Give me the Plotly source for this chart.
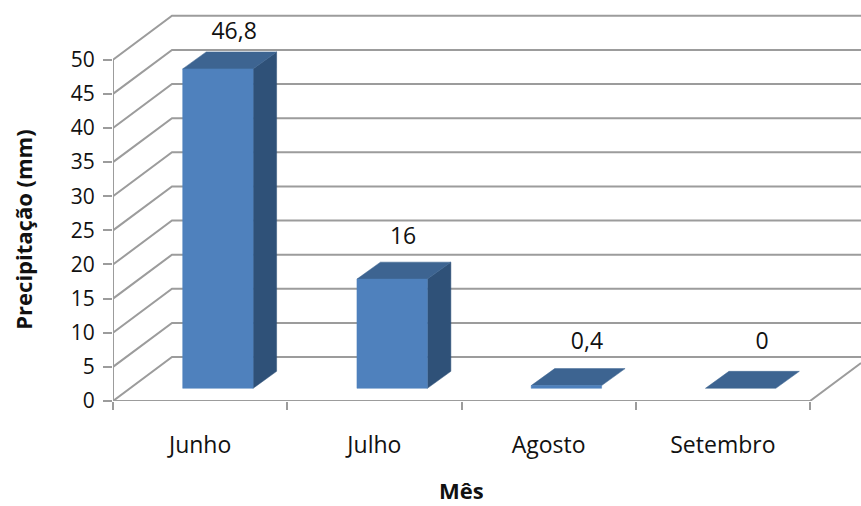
import plotly.graph_objects as go

# Rainfall per month
meses = ["Junho", "Julho", "Agosto", "Setembro"]
precipitacao = [46.8, 16, 0.4, 0]
rotulos = ["46,8", "16", "0,4", "0"]
y_ticks = [0, 5, 10, 15, 20, 25, 30, 35, 40, 45, 50]

FONT = "Open Sans"
INK = "#111111"
GRID = "#9c9c9c"
FRONT, TOP, SIDE = "#4f81bd", "#3d6491", "#2f5178"

# Pixel scale of the plot area, used to express the oblique projection in axis units
W, H = 861, 506
ML, MB = 113, 104.5
PX_X = 174.25
PX_Y = 6.834
X_MAX = (W - ML) / PX_X
Y_MAX = (H - MB) / PX_Y

# Oblique offsets of the walls and of the bars
WALL_DX, WALL_DY = 59 / PX_X, 44 / PX_Y
BAR_DX, BAR_DY = 23.5 / PX_X, 17 / PX_Y
FLOOR_DY = 12.7 / PX_Y
BAR_LEFT, BAR_WIDTH = 0.40, 0.404

# Nudges of the value labels from each bar: along x and above the value
LABEL_DX = [0.695, 0.665, 0.72, 0.725]
LABEL_DY = [7.15, 7.85, 8.0, 8.4]

fig = go.Figure()


def line(xs, ys):
    fig.add_trace(go.Scatter(x=xs, y=ys, mode="lines", hoverinfo="skip",
                             line=dict(color=GRID, width=2), showlegend=False))


def face(xs, ys, color):
    fig.add_trace(go.Scatter(x=xs, y=ys, mode="lines", fill="toself", fillcolor=color,
                             hoverinfo="skip", line=dict(color=color, width=0.5),
                             showlegend=False))


# Back wall gridlines joined to the side wall
for v in y_ticks:
    line([0, WALL_DX, X_MAX], [v, v + WALL_DY, v + WALL_DY])

# Front axis lines and the right edge of the floor
line([0, 0], [0, y_ticks[-1]])
line([0, len(meses), X_MAX], [0, 0, (X_MAX - len(meses)) / WALL_DX * WALL_DY])

# Bars: side, top and front faces
for i, v in enumerate(precipitacao):
    x0 = i + BAR_LEFT
    x1 = x0 + BAR_WIDTH
    base = FLOOR_DY
    top = base + v
    if v > 1:
        face([x1, x1 + BAR_DX, x1 + BAR_DX, x1, x1],
             [base, base + BAR_DY, top + BAR_DY, top, base], SIDE)
    face([x0, x0 + BAR_DX, x1 + BAR_DX, x1, x0],
         [top, top + BAR_DY, top + BAR_DY, top, top], TOP)
    if v > 0:
        face([x0, x1, x1, x0, x0], [base, base, top, top, base], FRONT)

# Value labels
fig.add_trace(go.Scatter(
    x=[i + dx for i, dx in enumerate(LABEL_DX)],
    y=[v + dy for v, dy in zip(precipitacao, LABEL_DY)],
    mode="text", text=rotulos, textposition="middle center", hoverinfo="skip",
    textfont=dict(family=FONT, size=23, color=INK), showlegend=False))

plot_h = H - MB

fig.update_layout(
    width=W, height=H, autosize=False,
    margin=dict(l=ML, r=0, t=0, b=MB, pad=0),
    paper_bgcolor="white", plot_bgcolor="white",
    font=dict(family=FONT, size=20, color=INK),
    xaxis=dict(
        range=[0, X_MAX], showgrid=False, zeroline=False, showline=False,
        tickmode="array", tickvals=[i + 0.5 for i in range(len(meses))], ticktext=meses,
        ticks="", ticklabelstandoff=28, tickfont=dict(family=FONT, size=23, color=INK),
        minor=dict(tickmode="array", tickvals=list(range(len(meses) + 1)), ticks="outside",
                   ticklen=8, tickwidth=2, tickcolor=GRID, showgrid=False),
    ),
    yaxis=dict(
        range=[0, Y_MAX], showgrid=False, zeroline=False, showline=False,
        tickmode="array", tickvals=y_ticks, ticks="outside", ticklen=9, tickwidth=2,
        tickcolor=GRID, ticklabelstandoff=4, tickfont=dict(family=FONT, size=21, color=INK),
    ),
    annotations=[
        # Axis titles sit at fixed spots of the canvas, outside the plot area
        dict(text="<b>Mês</b>", x=(461 - ML) / (W - ML), y=-MB / plot_h, height=28, borderpad=0,
             xref="paper", yref="paper", xanchor="center", yanchor="bottom", valign="middle",
             showarrow=False, font=dict(family=FONT, size=22, color=INK)),
        dict(text="<b>Precipitação (mm)</b>", x=(23 - ML) / (W - ML), y=(plot_h - 230) / plot_h,
             xref="paper", yref="paper", xanchor="center", yanchor="middle",
             textangle=-90, showarrow=False, font=dict(family=FONT, size=22, color=INK)),
    ],
)

fig.write_html("out.html", config={"displayModeBar": False})
